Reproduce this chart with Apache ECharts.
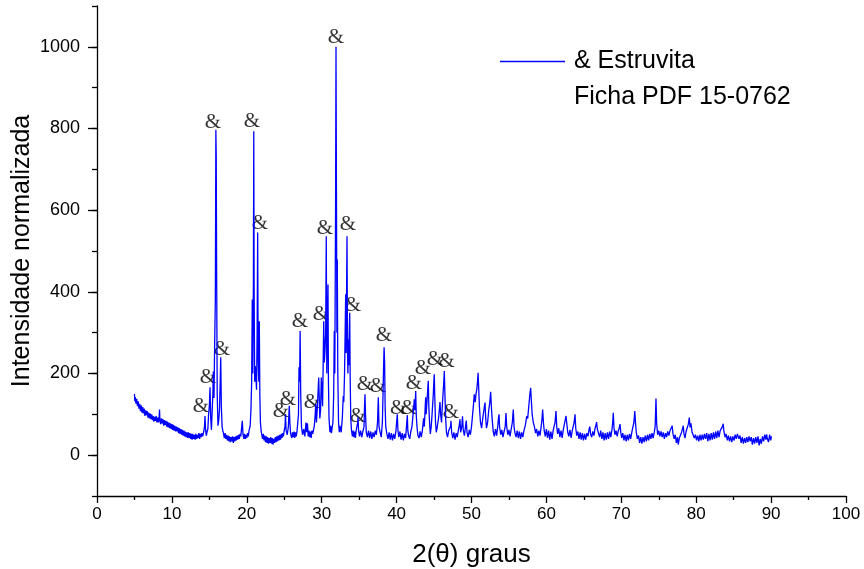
<!DOCTYPE html>
<html><head><meta charset="utf-8">
<script src="https://cdn.jsdelivr.net/npm/echarts@6/dist/echarts.min.js"></script>
<style>html,body{margin:0;padding:0;background:#fff}#c{width:864px;height:569px}</style>
</head><body><div id="c"></div>
<script>
// ---- diffractogram, [2theta, intensity] pairs ----
const scanLow = [[5.0,150],[5.05,132],[5.1,142],[5.2,126],[5.3,138],[5.4,120],[5.5,132],[5.6,114],[5.7,126],[5.8,108],[5.9,122],[6.0,104],[6.1,118],[6.2,102],[6.3,114],[6.4,96],[6.5,110],[6.6,98],[6.7,108],[6.8,92],[6.9,104],[7.0,90],[7.1,102],[7.2,88],[7.3,100],[7.4,86],[7.5,96],[7.6,82],[7.7,94],[7.8,84],[7.9,96],[8.0,80],[8.1,92],[8.2,80],[8.3,96],[8.35,112],[8.4,84],[8.5,76],[8.6,90],[8.7,78],[8.8,88],[8.9,72],[9.0,86],[9.1,74],[9.2,84],[9.3,70],[9.4,82],[9.5,68],[9.6,80],[9.7,66],[9.8,78],[9.9,64],[10.0,76],[10.1,62],[10.2,74],[10.3,60],[10.4,72],[10.5,58],[10.6,70],[10.7,58],[10.8,68],[10.9,54],[11.0,66],[11.1,52],[11.2,64],[11.3,50],[11.4,62],[11.5,48],[11.6,60],[11.7,46],[11.8,58],[11.9,44],[12.0,56],[12.1,42],[12.2,56],[12.3,42],[12.4,54],[12.5,40],[12.6,52],[12.7,38],[12.8,52],[12.9,40],[13.0,50],[13.1,38],[13.2,52],[13.3,40],[13.4,50],[13.5,42],[13.6,54],[13.7,40],[13.8,52],[13.9,44],[14.0,54],[14.1,46]];
const scanPeaks1 = [[14.25,58],[14.35,70],[14.42,96],[14.5,60],[14.6,48],[14.7,58],[14.8,64],[14.9,100],[15.0,120],[15.09,166],[15.18,90],[15.28,62],[15.38,110],[15.47,150],[15.53,205],[15.62,140],[15.7,260],[15.8,380],[15.87,797],[15.92,728],[15.98,420],[16.05,150],[16.15,72],[16.25,85],[16.35,110],[16.45,180],[16.52,240],[16.6,120],[16.7,70],[16.8,60],[16.9,52],[17.0,42],[17.1,54],[17.2,40],[17.3,50],[17.4,36],[17.5,48],[17.6,34],[17.7,46],[17.8,32],[17.9,44],[18.0,34],[18.1,46],[18.2,30],[18.3,44],[18.4,34],[18.5,46],[18.6,36],[18.7,48],[18.8,38],[18.9,50],[19.0,40],[19.1,52],[19.2,46],[19.3,66],[19.4,84],[19.5,50],[19.6,40],[19.7,52],[19.8,40],[19.9,50],[20.0,42],[20.1,54],[20.2,46],[20.3,60],[20.45,72],[20.55,110],[20.65,180],[20.73,381],[20.8,200],[20.88,420],[20.93,793],[20.98,400],[21.05,180],[21.13,218],[21.22,190],[21.3,160],[21.38,300],[21.45,545],[21.52,230],[21.6,180],[21.67,328],[21.74,150],[21.82,80],[21.92,58],[22.0,50]];
const scanPeaks2 = [[22.1,40],[22.2,52],[22.3,36],[22.4,48],[22.5,32],[22.6,46],[22.7,30],[22.8,44],[22.9,28],[23.0,42],[23.1,30],[23.2,44],[23.3,28],[23.4,42],[23.5,26],[23.6,40],[23.7,30],[23.8,44],[23.9,32],[24.0,46],[24.1,34],[24.2,48],[24.3,36],[24.4,50],[24.5,38],[24.6,52],[24.7,42],[24.8,54],[24.9,46],[24.95,56],[25.1,70],[25.17,100],[25.25,60],[25.4,50],[25.55,70],[25.67,121],[25.75,80],[25.85,52],[26.0,42],[26.1,56],[26.2,44],[26.3,58],[26.4,42],[26.5,56],[26.6,46],[26.7,58],[26.8,62],[26.9,100],[26.97,215],[27.05,180],[27.12,304],[27.2,150],[27.3,70],[27.45,50],[27.6,64],[27.75,46],[27.9,80],[28.0,56],[28.1,78],[28.2,46],[28.3,60],[28.4,44],[28.5,58],[28.6,42],[28.7,60],[28.8,52],[29.0,70],[29.1,90],[29.2,125],[29.3,80],[29.4,110],[29.5,150],[29.6,190],[29.68,190],[29.75,90],[29.85,110],[29.95,190],[30.04,190],[30.12,120],[30.2,230],[30.27,328],[30.35,227],[30.45,260],[30.53,300],[30.61,536],[30.68,200],[30.76,300],[30.84,418],[30.9,180],[30.98,90],[31.1,56],[31.2,72],[31.3,54],[31.4,68],[31.5,80],[31.6,150],[31.68,304],[31.75,200],[31.85,600],[31.91,1000],[31.97,650],[32.03,300],[32.08,479],[32.15,200],[32.25,80],[32.35,56],[32.45,72],[32.6,56],[32.75,90],[32.88,145],[32.95,130],[33.05,200],[33.13,300],[33.2,394],[33.26,250],[33.32,400],[33.38,536],[33.45,250],[33.5,200],[33.55,283],[33.62,220],[33.68,300],[33.74,349],[33.8,194],[33.88,90],[33.98,60],[34.1,46],[34.2,60],[34.3,44],[34.4,58],[34.5,42],[34.6,60],[34.7,56],[34.8,80],[34.85,93],[34.92,62],[35.05,46]];
const scanMid = [[35.2,60],[35.35,44],[35.5,58],[35.65,70],[35.72,120],[35.78,149],[35.85,100],[35.95,56],[36.1,44],[36.25,60],[36.4,42],[36.55,58],[36.7,40],[36.85,56],[37.0,44],[37.15,60],[37.3,50],[37.45,80],[37.56,142],[37.65,70],[37.8,56],[37.95,44],[38.1,80],[38.2,160],[38.28,230],[38.33,264],[38.4,227],[38.47,120],[38.55,70],[38.7,52],[38.85,40],[39.0,56],[39.15,38],[39.3,54],[39.45,36],[39.6,52],[39.75,40],[39.9,58],[40.0,80],[40.09,100],[40.18,60],[40.3,44],[40.45,58],[40.6,38],[40.75,54],[40.9,36],[41.05,52],[41.2,42],[41.32,70],[41.43,98],[41.5,60],[41.6,48],[41.75,40],[41.9,58],[42.05,70],[42.2,100],[42.3,120],[42.36,137],[42.45,110],[42.55,157],[42.62,100],[42.72,70],[42.85,48],[43.0,42],[43.15,58],[43.3,44],[43.45,62],[43.6,90],[43.7,70],[43.8,110],[43.88,142],[43.95,100],[44.05,130],[44.15,160],[44.23,182],[44.3,120],[44.4,80],[44.5,52],[44.6,66],[44.7,90],[44.8,120],[44.9,150],[44.97,180],[45.03,198],[45.1,140],[45.2,80],[45.3,56],[45.45,72],[45.6,90],[45.7,110],[45.79,130],[45.88,100],[46.0,80],[46.1,120],[46.2,150],[46.3,180],[46.37,206],[46.45,150],[46.55,90],[46.65,56],[46.8,44],[46.95,60],[47.1,56],[47.2,70],[47.26,84],[47.35,56],[47.5,42],[47.65,56],[47.8,38],[47.95,54],[48.1,44],[48.25,62],[48.35,72],[48.46,88],[48.55,56],[48.7,70],[48.8,95],[48.9,62],[49.05,48],[49.2,70],[49.3,85],[49.4,56],[49.55,44],[49.7,62],[49.85,50],[50.0,70],[50.15,100],[50.25,120],[50.37,149],[50.5,130],[50.6,150],[50.7,160],[50.8,180],[50.88,202],[50.95,170],[51.05,120],[51.2,80],[51.35,66],[51.5,90],[51.65,110],[51.8,129],[51.9,90],[52.0,66],[52.15,80],[52.3,110],[52.45,130],[52.56,155],[52.65,120],[52.75,90],[52.9,58],[53.05,46],[53.2,64],[53.35,48],[53.5,70],[53.6,90],[53.67,100],[53.75,70],[53.9,50],[54.05,62],[54.2,44],[54.35,58],[54.5,70],[54.6,103],[54.7,70],[54.85,50],[55.0,62],[55.15,46],[55.3,64],[55.45,80],[55.58,112],[55.68,70],[55.8,54],[55.95,44],[56.1,60],[56.25,42],[56.4,58],[56.55,40],[56.7,56],[56.85,44],[57.0,60],[57.15,70],[57.25,80],[57.37,96],[57.5,90],[57.6,110],[57.7,130],[57.8,150],[57.9,165],[58.0,130],[58.1,100],[58.25,80],[58.4,70],[58.55,54],[58.7,64],[58.85,46],[59.0,60],[59.15,48],[59.3,70],[59.42,90],[59.5,112],[59.6,80],[59.72,58],[59.85,46]];
const scanHigh = [[60.0,64],[60.15,42],[60.3,60],[60.45,38],[60.6,58],[60.75,40],[60.9,60],[61.05,58],[61.15,80],[61.28,108],[61.38,70],[61.5,52],[61.65,66],[61.8,44],[61.95,60],[62.1,42],[62.25,62],[62.4,66],[62.5,85],[62.62,96],[62.72,78],[62.85,56],[63.0,46],[63.15,62],[63.3,42],[63.45,60],[63.6,62],[63.7,80],[63.82,100],[63.92,66],[64.05,48],[64.2,58],[64.35,40],[64.5,56],[64.65,38],[64.8,54],[64.95,36],[65.1,52],[65.25,38],[65.4,54],[65.55,46],[65.7,64],[65.8,70],[65.9,52],[66.05,44],[66.2,58],[66.35,48],[66.5,66],[66.6,72],[66.7,81],[66.8,64],[66.95,54],[67.1,44],[67.25,60],[67.4,40],[67.55,56],[67.7,36],[67.85,54],[68.0,38],[68.15,56],[68.3,40],[68.45,58],[68.6,44],[68.75,62],[68.85,80],[68.93,104],[69.02,68],[69.15,50],[69.3,60],[69.45,46],[69.6,60],[69.72,66],[69.83,76],[69.93,56],[70.05,42],[70.2,54],[70.35,36],[70.5,50],[70.65,34],[70.8,50],[70.95,36],[71.1,52],[71.25,40],[71.4,56],[71.55,58],[71.68,80],[71.8,108],[71.9,78],[72.0,56],[72.15,40],[72.3,48],[72.45,30],[72.6,44],[72.75,28],[72.9,44],[73.05,32],[73.2,48],[73.35,34],[73.5,50],[73.65,36],[73.8,52],[73.95,40],[74.1,54],[74.25,42],[74.4,56],[74.52,70],[74.63,139],[74.72,78],[74.85,50],[75.0,60],[75.15,46],[75.3,58],[75.45,44],[75.6,56],[75.75,40],[75.9,54],[76.05,44],[76.2,58],[76.35,48],[76.5,60],[76.65,58],[76.8,72],[76.9,52],[77.05,40],[77.2,50],[77.35,30],[77.5,44],[77.6,26],[77.75,42],[77.9,38],[78.05,56],[78.15,60],[78.27,72],[78.37,52],[78.5,42],[78.65,58],[78.8,60],[78.95,76],[79.08,92],[79.18,68],[79.3,78],[79.45,56],[79.6,60],[79.75,42],[79.9,50],[80.05,36],[80.2,48],[80.35,34],[80.5,50],[80.65,36],[80.8,50],[80.95,38],[81.1,52],[81.25,40],[81.4,54],[81.55,34],[81.7,52],[81.85,36],[82.0,54],[82.15,38],[82.3,56],[82.45,40],[82.6,58],[82.75,42],[82.9,60],[83.05,44],[83.2,60],[83.35,56],[83.5,70],[83.6,77],[83.7,58],[83.85,44],[84.0,52],[84.15,36],[84.3,48],[84.45,34],[84.6,46],[84.75,32],[84.9,46],[85.05,36],[85.2,50],[85.35,40],[85.5,52],[85.6,55],[85.7,40],[85.85,48],[86.0,30],[86.15,44],[86.3,28],[86.45,42],[86.6,30],[86.75,44],[86.9,32],[87.05,46],[87.2,34],[87.35,44],[87.5,26],[87.65,42],[87.8,28],[87.95,44],[88.1,30],[88.25,46],[88.4,24],[88.55,40],[88.7,28],[88.85,46],[89.0,34],[89.15,50],[89.3,38],[89.4,51],[89.5,40],[89.65,32],[89.8,50],[89.95,36],[90.05,46]];

// ---- "&" peak markers (position of each label, 2theta / intensity) ----
const markX = [13.88,14.82,15.49,16.69,20.69,21.76,24.57,25.5,27.1,28.7,29.9,30.44,31.9,33.5,34.18,34.85,35.78,37.5,38.3,40.2,41.66,42.3,43.5,45.1,46.7,47.26];
const markY = [120,191,814,259,817,567,108,137,328,130,345,555,1022,565,367,95,174,169,293,115,115,176,213,235,230,105];

// ---- axes ----
const xTicks = {min:0, max:100, step:10};
const yLabelTicks = {min:0, max:1000, step:200};
const yFrame = {min:-100, max:1100};
const legendName = '& Estruvita';
const legendNote = 'Ficha PDF 15-0762';
const xTitle = '2(\u03b8) graus';
const yTitle = 'Intensidade normalizada';

const scan = [].concat(scanLow, scanPeaks1, scanPeaks2, scanMid, scanHigh);
const marks = markX.map((x,i)=>[x, markY[i]]);

const SANS = 'Liberation Sans, Arial, sans-serif';
const NARROW = 'Liberation Sans Narrow, Arial Narrow, Liberation Sans, sans-serif';
const chart = echarts.init(document.getElementById('c'), null, {renderer:'canvas'});
chart.setOption({
  animation:false,
  backgroundColor:'#fff',
  grid:[
    {left:97, right:18, top:6, bottom:73, containLabel:false, outerBoundsMode:'none'},
    {left:97, right:18, top:46.83, bottom:113.83, containLabel:false, outerBoundsMode:'none'}
  ],
  title:{text:legendNote, left:574, top:85, padding:0,
    textStyle:{fontFamily:SANS, fontSize:25, fontWeight:'normal', color:'#000'}},
  legend:{data:[legendName], left:500, top:49, icon:'rect', itemWidth:65, itemHeight:1.5, itemGap:8, padding:0,
    textStyle:{fontFamily:SANS, fontSize:25, color:'#000', padding:[0,0,0,4]}},
  xAxis:[
    {type:'value', gridIndex:0, min:xTicks.min, max:xTicks.max, interval:xTicks.step,
      name:xTitle, nameLocation:'middle', nameGap:46,
      nameTextStyle:{fontFamily:NARROW, fontSize:26, color:'#000'},
      axisLine:{show:true, onZero:false, lineStyle:{color:'#000', width:1.3}},
      axisTick:{show:true, inside:false, length:7, lineStyle:{color:'#000', width:1.3}},
      minorTick:{show:true, splitNumber:2, length:4, lineStyle:{color:'#000', width:1.3}},
      axisLabel:{fontFamily:NARROW, fontSize:17, color:'#000', margin:10},
      splitLine:{show:false}},
    {type:'value', gridIndex:1, min:xTicks.min, max:xTicks.max, show:false}
  ],
  yAxis:[
    {type:'value', gridIndex:0, min:yFrame.min, max:yFrame.max, interval:100,
      axisLine:{show:true, onZero:false, lineStyle:{color:'#000', width:1.3}},
      axisTick:{show:true, length:5, lineStyle:{color:'#000', width:1.3}},
      axisLabel:{show:false}, splitLine:{show:false}},
    {type:'value', gridIndex:1, min:yLabelTicks.min, max:yLabelTicks.max, interval:yLabelTicks.step,
      name:yTitle, nameLocation:'middle', nameGap:62, nameMoveOverlap:false,
      nameTextStyle:{fontFamily:SANS, fontSize:25, color:'#000'},
      axisLine:{show:false},
      axisTick:{show:true, length:9, lineStyle:{color:'#000', width:1.3}},
      axisLabel:{fontFamily:SANS, fontSize:18, color:'#000', margin:17, formatter:v=>String(v)},
      splitLine:{show:false}}
  ],
  series:[
    {name:legendName, type:'line', xAxisIndex:0, yAxisIndex:0, data:scan,
      showSymbol:false, symbol:'none', sampling:null,
      lineStyle:{color:'#0000ff', width:1.3}, itemStyle:{color:'#0000ff'}},
    {name:'marks', type:'scatter', xAxisIndex:0, yAxisIndex:0, data:marks, symbolSize:1,
      itemStyle:{color:'rgba(0,0,0,0)'},
      label:{show:true, formatter:'&', position:'inside', fontFamily:'Liberation Serif, Times New Roman, serif',
        fontSize:21, color:'#000'}}
  ]
});
</script></body></html>
